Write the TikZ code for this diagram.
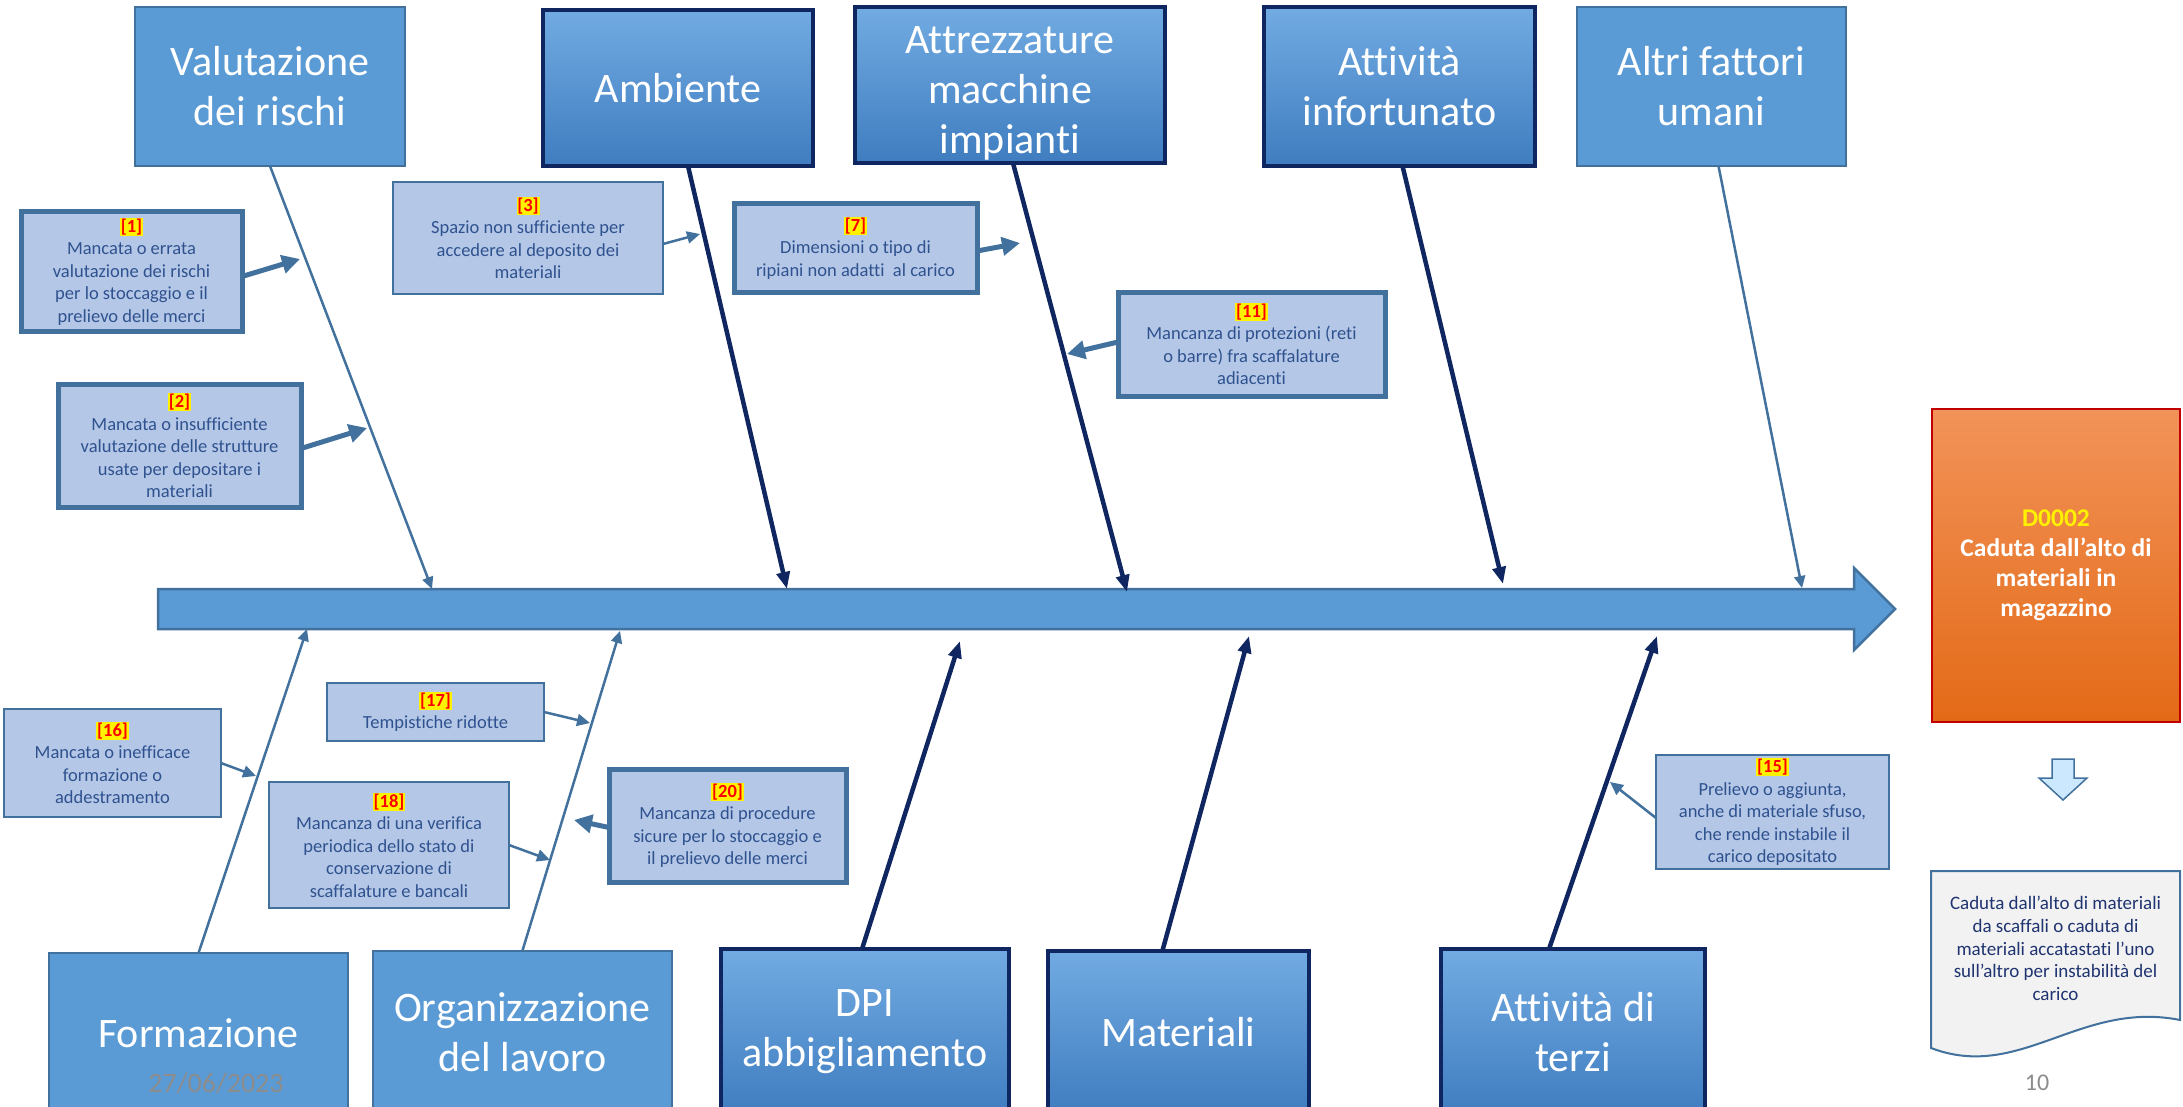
\documentclass[tikz,border=0pt]{standalone}
\usepackage{fontspec}
\setmainfont{Carlito}[Ligatures=NoCommon]
\usetikzlibrary{arrows.meta,positioning}

\definecolor{catblue}{HTML}{5B9BD5}
\definecolor{catlight}{HTML}{72ABE2}
\definecolor{catdeep}{HTML}{3F7DC0}
\definecolor{edgeblue}{HTML}{41719C}
\definecolor{darknavy}{HTML}{0F2660}
\definecolor{causefill}{HTML}{B4C7E7}
\definecolor{causetext}{HTML}{2F528F}
\definecolor{evtlight}{HTML}{F29359}
\definecolor{evtdeep}{HTML}{E36A17}
\definecolor{evtedge}{HTML}{C00000}
\definecolor{docfill}{HTML}{F2F2F2}
\definecolor{doctext}{HTML}{1F3470}
\definecolor{arrowfill}{HTML}{CCE8FF}

\newcommand{\causeno}[1]{{\setlength{\fboxsep}{0.8pt}\colorbox{yellow}{\textcolor{red}{\textbf{[#1]}}}}}

\begin{document}
\begin{tikzpicture}[x=1pt,y=-1pt,>=Triangle,
    cat/.style={draw=edgeblue,line width=2pt,fill=catblue,text=white,
                font=\fontsize{42}{50}\selectfont,align=center,inner sep=0pt,outer sep=0pt},
    catdark/.style={cat,draw=darknavy,line width=4pt,top color=catlight,bottom color=catdeep},
    cause/.style={draw=edgeblue,line width=2pt,fill=causefill,text=causetext,
                  font=\fontsize{18.5}{22.5}\selectfont,align=center,inner sep=0pt,outer sep=0pt},
    causethick/.style={cause,line width=5pt},
    bone/.style={draw=edgeblue,line width=2.5pt,-{Triangle[length=12pt,width=11pt]}},
    bonedark/.style={draw=darknavy,line width=4.5pt,-{Triangle[length=17pt,width=13pt]}},
    link/.style={draw=edgeblue,line width=2.5pt,-{Triangle[length=13pt,width=12pt]}},
    linkthick/.style={draw=edgeblue,line width=5pt,-{Triangle[length=18pt,width=18pt]}}]
  \tikzstyle{result}=[draw=evtedge,line width=2pt,top color=evtlight,bottom color=evtdeep,
                      text=white,font=\bfseries\fontsize{25.5}{30}\selectfont,align=center,
                      minimum width=248pt,minimum height=313pt,inner sep=0pt]

  \useasboundingbox (0,0) rectangle (2183,1107);
  \clip (0,0) rectangle (2183,1107);

  \filldraw[fill=catblue,draw=edgeblue,line width=2.5pt]
    (158,589) -- (1854,589) -- (1854,568) -- (1895,609) -- (1854,650) -- (1854,629) -- (158,629) -- cycle;

  \node[cat,minimum width=270pt,minimum height=159pt]     (valut)  at (270,86.5)   {Valutazione\\dei rischi};
  \node[catdark,minimum width=270pt,minimum height=156pt] (amb)    at (678,88)     {Ambiente};
  \node[catdark,minimum width=310pt,minimum height=156pt] (attr)   at (1010,85)    {};
  \node[text=white,font=\fontsize{42}{50}\selectfont,align=center,inner sep=0pt] (attrtext)
    at ([yshift=-8pt]attr.center) {Attrezzature\\macchine\\impianti};
  \node[catdark,minimum width=271pt,minimum height=159pt] (infort) at (1399.5,86.5) {Attività\\infortunato};
  \node[cat,minimum width=269pt,minimum height=159pt]     (altri)  at (1711.5,86.5) {Altri fattori\\umani};

  \node[cat,minimum width=299pt,minimum height=160pt]     (form)   at (198.5,1033)  {Formazione};
  \node[cat,minimum width=299pt,minimum height=163pt]     (org)    at (522.5,1032) {Organizzazione\\del lavoro};
  \node[catdark,minimum width=288pt,minimum height=166pt] (dpi)    at (865,1032)    {DPI\\abbigliamento};
  \node[catdark,minimum width=261pt,minimum height=163pt] (mat)    at (1178.5,1032) {Materiali};
  \node[catdark,minimum width=264pt,minimum height=166pt] (terzi)  at (1573,1032)   {Attività di\\terzi};

  \node[causethick,minimum width=221pt,minimum height=119pt] (c1)  at (131.5,271.5) {\causeno{1}\\Mancata o errata\\valutazione dei rischi\\per lo stoccaggio e il\\prelievo delle merci};
  \node[causethick,minimum width=243pt,minimum height=123pt] (c2)  at (179.5,445.5) {\causeno{2}\\Mancata o insufficiente\\valutazione delle strutture\\usate per depositare i\\materiali};
  \node[cause,minimum width=270pt,minimum height=112pt]      (c3)  at (528,238)     {\causeno{3}\\Spazio non sufficiente per\\accedere al deposito dei\\materiali};
  \node[causethick,minimum width=243pt,minimum height=88pt]  (c7)  at (855.5,248)   {\causeno{7}\\Dimensioni o tipo di\\ripiani non adatti\ \ al carico};
  \node[causethick,minimum width=267pt,minimum height=104pt] (c11) at (1251.5,344)  {\causeno{11}\\Mancanza di protezioni (reti\\o barre) fra scaffalature\\adiacenti};
  \node[cause,minimum width=233pt,minimum height=114pt]      (c15) at (1772.5,812)  {\causeno{15}\\Prelievo o aggiunta,\\anche di materiale sfuso,\\che rende instabile il\\carico depositato};
  \node[cause,minimum width=217pt,minimum height=108pt]      (c16) at (112.5,763)   {\causeno{16}\\Mancata o inefficace\\formazione o\\addestramento};
  \node[cause,minimum width=217pt,minimum height=58pt]       (c17) at (435.5,712)   {\causeno{17}\\Tempistiche ridotte};
  \node[cause,minimum width=240pt,minimum height=126pt]      (c18) at (389,845)     {\causeno{18}\\Mancanza di una verifica\\periodica dello stato di\\conservazione di\\scaffalature e bancali};
  \node[causethick,minimum width=237pt,minimum height=113pt] (c20) at (727.5,825.5) {\causeno{20}\\Mancanza di procedure\\sicure per lo stoccaggio e\\il prelievo delle merci};

  \node[result] (evt) at (2056,565.5) {\textcolor{yellow}{D0002}\\Caduta dall’alto di\\materiali in\\magazzino};

  \filldraw[fill=arrowfill,draw=edgeblue,line width=1.5pt]
    (2052,759) -- (2074,759) -- (2074,778) -- (2087,778) -- (2063,800) -- (2039,778) -- (2052,778) -- cycle;

  \filldraw[fill=docfill,draw=edgeblue,line width=2pt]
    (1931,871) -- (2180,871) -- (2180,1020) .. controls (2080,1000) and (2020,1082) .. (1931,1048) -- cycle;
  \node[text=doctext,font=\fontsize{19}{22.7}\selectfont,align=center] (doc) at (2055.5,948.5)
    {Caduta dall’alto di materiali\\da scaffali o caduta di\\materiali accatastati l’uno\\sull’altro per instabilità del\\carico};

  \node[text=black!45,font=\fontsize{28}{30}\selectfont] (date) at (216,1083) {27/06/2023};
  \node[text=black!45,font=\fontsize{24}{26}\selectfont] (page) at (2037,1083) {10};

  \coordinate (s1) at (432,589);
  \coordinate (s2) at (787,589);
  \coordinate (s3) at (1127,592);
  \coordinate (s4) at (1503,584);
  \coordinate (s5) at (1802,588);
  \coordinate (b1) at (307,629);
  \coordinate (b2) at (620,631);
  \coordinate (b3) at (960,641);
  \coordinate (b4) at (1249,636);
  \coordinate (b5) at (1657,636);

  \path (valut.south)               edge[bone]     (s1)
        ([xshift=10pt]amb.south)    edge[bonedark] (s2)
        ([xshift=3pt]attr.south)    edge[bonedark] (s3)
        ([xshift=3pt]infort.south)  edge[bonedark] (s4)
        ([xshift=7pt]altri.south)   edge[bone]     (s5)
        (form.north)                edge[bone]     (b1)
        (org.north)                 edge[bone]     (b2)
        ([xshift=-3pt]dpi.north)    edge[bonedark] (b3)
        ([xshift=-16pt]mat.north)   edge[bonedark] (b4)
        ([xshift=-24pt]terzi.north) edge[bonedark] (b5);

  \coordinate (l1)  at (300,259);
  \coordinate (l2)  at (367,428);
  \coordinate (l3)  at (700,234);
  \coordinate (l7)  at (1020,243);
  \coordinate (l11) at (1067,354);
  \coordinate (l15) at (1610,782);
  \coordinate (l16) at (256,776);
  \coordinate (l17) at (590,723);
  \coordinate (l18) at (550,860);
  \coordinate (l20) at (574,820);

  \path ([yshift=-5pt]c1.east)  edge[linkthick] (l1)
        ([yshift=-3pt]c2.east)  edge[linkthick] (l2)
        ([yshift=-6pt]c3.east)  edge[link]      (l3)
        ([yshift=-3pt]c7.east)  edge[linkthick] (l7)
        ([yshift=2pt]c11.west)  edge[linkthick] (l11)
        ([yshift=-6pt]c15.west) edge[link]      (l15)
        (c16.east)              edge[link]      (l16)
        (c17.east)              edge[link]      (l17)
        (c18.east)              edge[link]      (l18)
        ([yshift=-2pt]c20.west) edge[linkthick] (l20);
\end{tikzpicture}
\end{document}
